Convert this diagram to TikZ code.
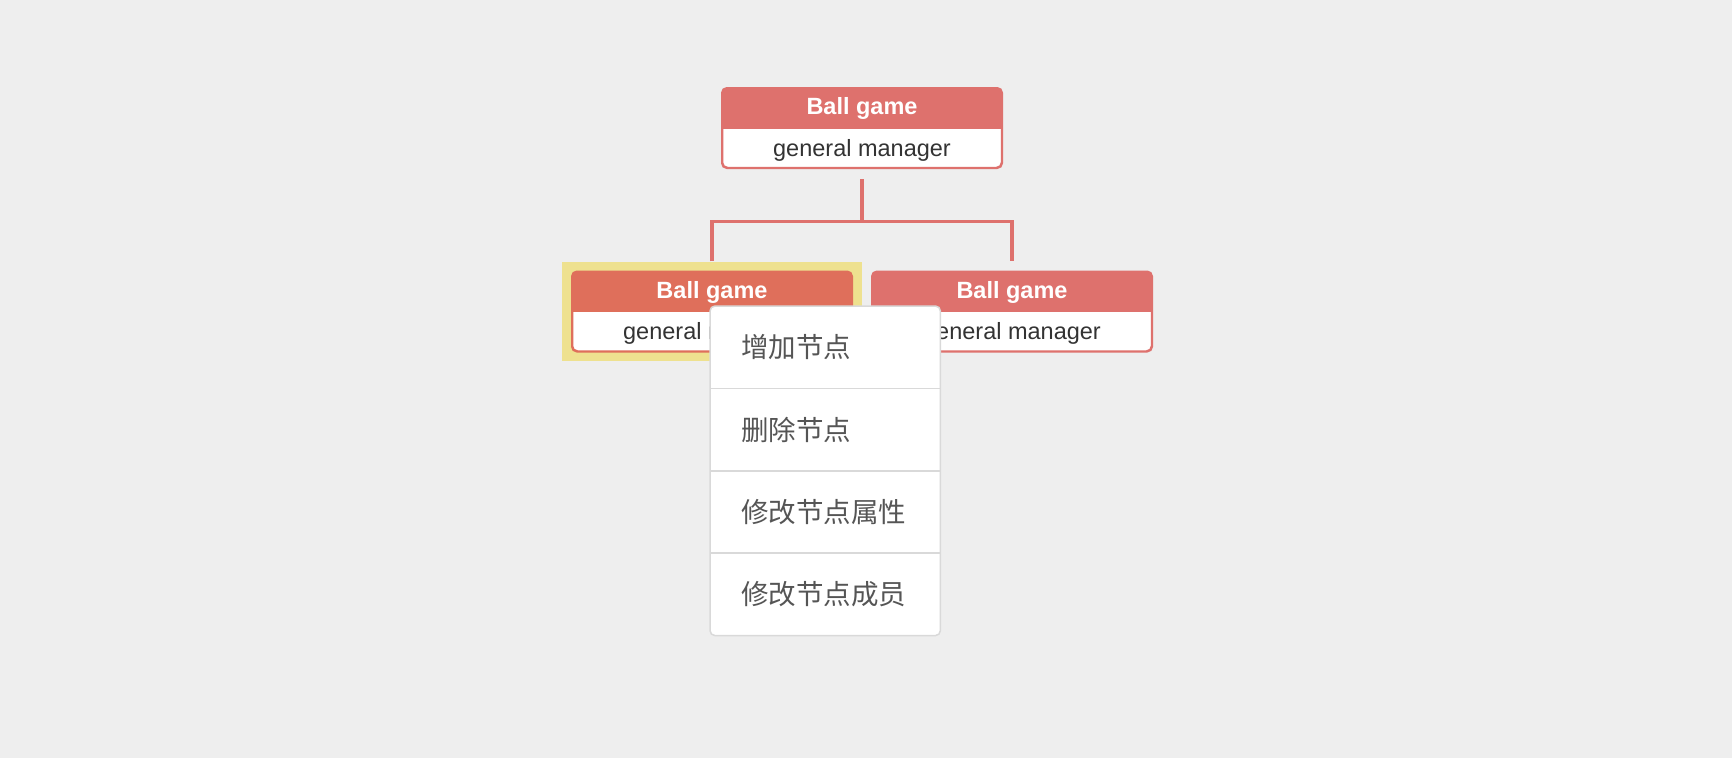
\documentclass[tikz,border=0pt]{standalone}
\usepackage{fontspec}
\setmainfont{Liberation Sans}
\newfontfamily\cjk{Noto Sans CJK SC}
\usetikzlibrary{positioning,calc}

\definecolor{pagebg}{HTML}{EEEEEE}
\definecolor{orgred}{HTML}{DE716D}
\definecolor{orgorange}{HTML}{DF6F5B}
\definecolor{selyellow}{HTML}{EEE18F}
\definecolor{menuline}{HTML}{D9D9D9}
\definecolor{menutext}{HTML}{555555}
\definecolor{bodytext}{HTML}{333333}

% one org chart box: name, x, y, header colour
\newcommand{\orgbox}[4]{%
  \node[orgframe, draw=#4] (#1) at (#2,#3) {};
  \begin{scope}
    \clip[rounded corners=5pt] (#1.south west) rectangle (#1.north east);
    \fill[#4] (#1.north west) rectangle ([yshift=-41pt]#1.north east);
  \end{scope}
  \draw[#4, line width=1.5pt, rounded corners=5pt] (#1.south west) rectangle (#1.north east);
  \node[headtext] (#1-head) at ([yshift=-21pt]#1.north) {Ball game};
  \node[roletext] (#1-role) at ([yshift=18pt]#1.south) {general manager};
}

\begin{document}
\begin{tikzpicture}[
    x=1pt, y=-1pt,
    orgframe/.style={rectangle, rounded corners=5pt, fill=white, line width=1.5pt, minimum width=279pt, minimum height=79pt, inner sep=0pt},
    headtext/.style={font=\fontsize{23.5}{26}\selectfont\bfseries, text=white, inner sep=0pt},
    roletext/.style={font=\fontsize{23.5}{26}\selectfont, text=bodytext, inner sep=0pt},
    link/.style={draw=orgred, line width=3.3pt},
    menuitem/.style={rectangle, minimum width=230pt, minimum height=82pt, inner sep=0pt, anchor=north west},
    menulabel/.style={font=\cjk\fontsize{27.5}{30}\selectfont, text=menutext, inner sep=0pt, anchor=west}
  ]
  \useasboundingbox[fill=pagebg] (0,0) rectangle (1732,758);

  % selection frame behind the left child
  \fill[selyellow] (562,262) rectangle (862,361);

  \orgbox{root}{862}{128}{orgred}
  \orgbox{left}{712}{311.5}{orgorange}
  \orgbox{right}{1012}{311.5}{orgred}

  % connectors
  \coordinate (rootout) at ([yshift=-11pt]root.south);
  \coordinate (fork) at ($(rootout)+(0,42)$);
  \coordinate (leftin) at ([yshift=10pt]left.north);
  \coordinate (rightin) at ([yshift=10pt]right.north);
  \draw[link] (rootout) -- (fork);
  \draw[link] (leftin) |- (fork) -| (rightin);

  % context menu
  \node[menuitem] (item1) at (710,306) {};
  \node[menuitem, below=0pt of item1] (item2) {};
  \node[menuitem, below=0pt of item2] (item3) {};
  \node[menuitem, below=0pt of item3] (item4) {};
  \filldraw[fill=white, draw=menuline, line width=1.5pt, rounded corners=5pt] (item1.north west) rectangle (item4.south east);
  \draw[menuline, line width=1.5pt] (item1.south west) -- (item1.south east);
  \draw[menuline, line width=1.5pt] (item2.south west) -- (item2.south east);
  \draw[menuline, line width=1.5pt] (item3.south west) -- (item3.south east);
  \node[menulabel] (label1) at ([xshift=31pt]item1.west) {增加节点};
  \node[menulabel] (label2) at ([xshift=31pt]item2.west) {删除节点};
  \node[menulabel] (label3) at ([xshift=31pt]item3.west) {修改节点属性};
  \node[menulabel] (label4) at ([xshift=31pt]item4.west) {修改节点成员};
\end{tikzpicture}
\end{document}
